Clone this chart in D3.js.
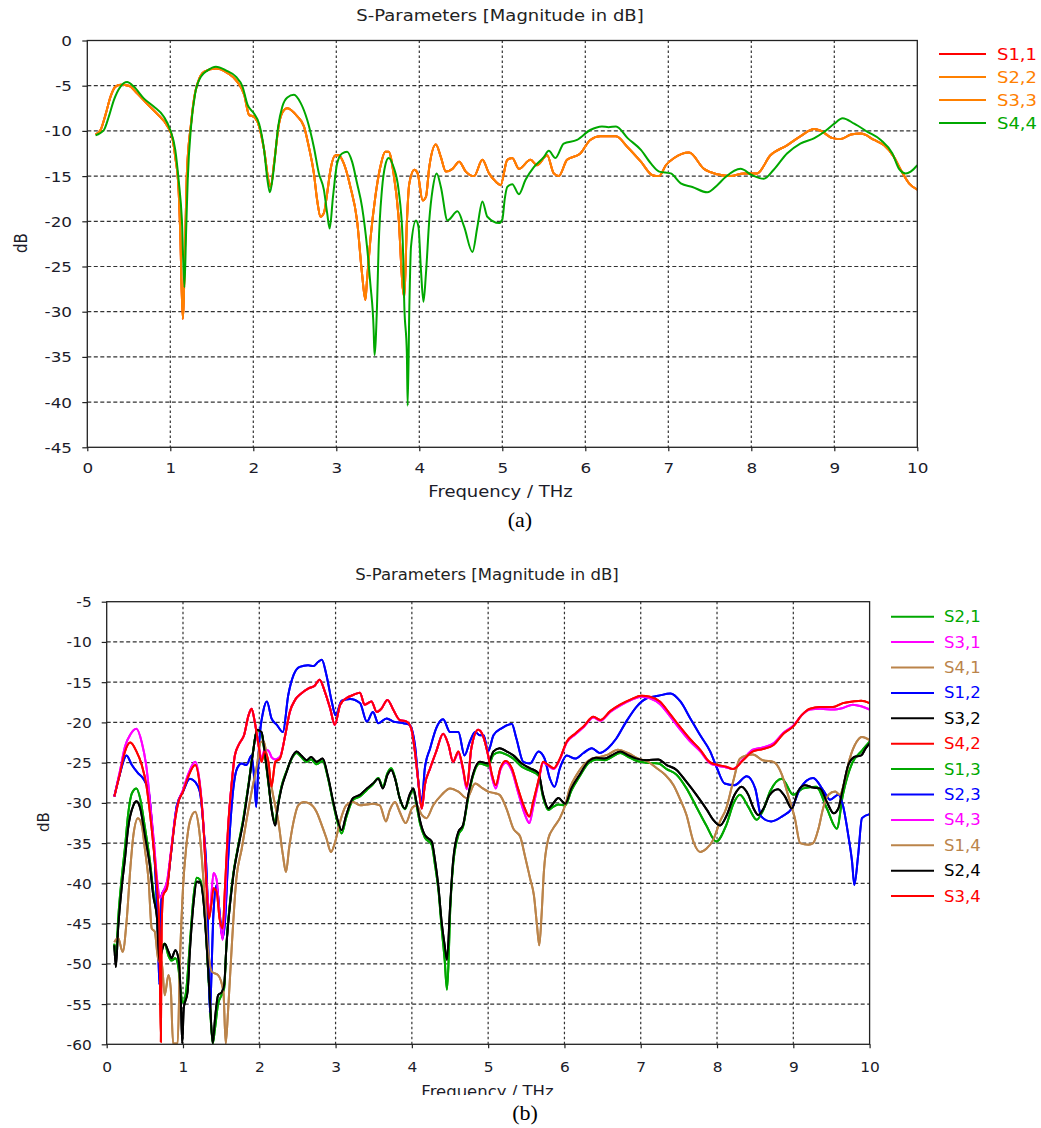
<!DOCTYPE html>
<html>
<head>
<meta charset="utf-8">
<script src="https://cdn.jsdelivr.net/npm/d3@7"></script>
<style>
  body { margin: 0; background: #fff; }
  svg { display: block; }
  text { font-family: "DejaVu Sans", Verdana, sans-serif; }
</style>
</head>
<body>
<div id="chart"></div>
<script>
// ---- panel (a): reflection, [THz, dB]
const freqTicks = d3.range(0, 11);
const ticksA = d3.range(-45, 1, 5);
const ticksB = d3.range(-60, -4, 5);

const reflOrange = [[0.1,-10.4],[0.16,-9.9],[0.22,-8.2],[0.28,-6.2],[0.34,-5.1],[0.4,-4.9],[0.5,-5.0],[0.6,-5.85],[0.72,-7.0],[0.84,-8.1],[0.96,-9.4],[1.02,-10.6],[1.06,-12.9],[1.1,-16.5],[1.12,-21.3],[1.15,-30.8],[1.18,-22],[1.2,-14.7],[1.25,-9.2],[1.29,-6.2],[1.33,-4.7],[1.41,-3.45],[1.55,-3.1],[1.69,-3.6],[1.81,-4.6],[1.89,-6.0],[1.95,-8.25],[2.0,-8.4],[2.07,-9.5],[2.13,-12.1],[2.19,-15.8],[2.21,-16.2],[2.25,-13.6],[2.31,-9.2],[2.37,-7.7],[2.41,-7.5],[2.53,-8.4],[2.61,-9.5],[2.67,-11.8],[2.73,-14.7],[2.77,-17.7],[2.81,-19.5],[2.85,-19.1],[2.89,-16.9],[2.93,-14.3],[2.99,-12.7],[3.03,-12.7],[3.09,-13.6],[3.17,-16.2],[3.25,-19.9],[3.31,-25.8],[3.35,-28.7],[3.37,-26.5],[3.41,-22.1],[3.47,-17.3],[3.53,-14.0],[3.59,-12.3],[3.63,-12.3],[3.69,-14.7],[3.75,-19.5],[3.8,-27.3],[3.82,-28.4],[3.85,-20.2],[3.88,-15.8],[3.94,-14.3],[3.98,-14.7],[4.04,-17.7],[4.08,-17.3],[4.12,-14.0],[4.2,-11.5],[4.26,-12.9],[4.32,-14.5],[4.4,-14.2],[4.48,-13.4],[4.56,-14.5],[4.66,-15.0],[4.76,-13.2],[4.84,-14.7],[4.92,-15.6],[4.98,-16.0],[5.06,-13.2],[5.12,-13.0],[5.2,-14.2],[5.34,-13.2],[5.42,-13.8],[5.54,-12.7],[5.62,-14.7],[5.68,-15.0],[5.78,-13.2],[5.94,-12.5],[6.06,-11.0],[6.18,-10.6],[6.37,-10.6],[6.51,-11.8],[6.67,-13.4],[6.81,-14.9],[6.89,-15.0],[6.97,-13.8],[7.07,-13.0],[7.25,-12.4],[7.43,-14.2],[7.59,-14.8],[7.75,-15.0],[7.91,-14.7],[8.07,-14.7],[8.23,-12.7],[8.43,-11.6],[8.59,-10.6],[8.76,-9.8],[8.84,-10.0],[8.98,-10.8],[9.08,-10.9],[9.2,-10.4],[9.32,-10.3],[9.48,-11.0],[9.6,-11.6],[9.72,-12.9],[9.8,-14.3],[9.9,-15.8],[10,-16.5]];

const reflGreen = [[0.1,-10.5],[0.2,-9.9],[0.26,-8.4],[0.32,-6.6],[0.4,-5.1],[0.48,-4.6],[0.56,-5.1],[0.68,-6.4],[0.8,-7.3],[0.92,-8.4],[1.0,-9.9],[1.06,-12.1],[1.1,-15.4],[1.14,-19.9],[1.17,-27.3],[1.19,-21.3],[1.21,-15.4],[1.25,-9.5],[1.3,-5.85],[1.37,-4.0],[1.45,-3.3],[1.55,-2.9],[1.67,-3.3],[1.79,-4.0],[1.87,-5.1],[1.93,-7.1],[2.01,-8.1],[2.07,-9.2],[2.13,-12.1],[2.17,-15.4],[2.2,-16.8],[2.24,-14.7],[2.3,-9.5],[2.35,-7.3],[2.41,-6.3],[2.49,-6.0],[2.57,-6.9],[2.65,-8.8],[2.73,-11.8],[2.79,-14.7],[2.85,-16.5],[2.89,-19.1],[2.92,-20.8],[2.96,-17.3],[3.01,-13.6],[3.07,-12.5],[3.13,-12.3],[3.19,-13.4],[3.25,-15.8],[3.31,-18.4],[3.37,-22.8],[3.41,-26.9],[3.45,-32.0],[3.46,-34.8],[3.49,-29.5],[3.51,-22.8],[3.55,-16.5],[3.59,-13.8],[3.63,-13.0],[3.69,-14.0],[3.75,-16.5],[3.8,-22.1],[3.82,-29.5],[3.85,-34.6],[3.86,-40.4],[3.88,-29.5],[3.9,-22.8],[3.96,-19.9],[3.99,-20.6],[4.02,-25.4],[4.05,-28.9],[4.08,-25.8],[4.12,-19.9],[4.16,-16.5],[4.21,-14.7],[4.26,-16.2],[4.34,-19.9],[4.46,-18.9],[4.54,-20.6],[4.64,-23.4],[4.7,-20.6],[4.76,-17.8],[4.82,-19.5],[4.96,-20.2],[5.0,-19.8],[5.03,-17.5],[5.06,-16.2],[5.12,-15.9],[5.2,-17.0],[5.28,-15.4],[5.38,-14.0],[5.5,-12.9],[5.56,-12.2],[5.64,-13.0],[5.74,-11.4],[5.9,-11.0],[6.06,-9.9],[6.2,-9.5],[6.28,-9.6],[6.37,-9.5],[6.51,-10.8],[6.67,-12.1],[6.79,-13.6],[6.89,-14.5],[7.03,-14.7],[7.15,-15.8],[7.29,-16.2],[7.47,-16.8],[7.59,-16.0],[7.69,-15.1],[7.87,-14.2],[8.01,-14.9],[8.15,-15.3],[8.27,-14.3],[8.43,-12.5],[8.59,-11.4],[8.76,-10.8],[8.88,-10.1],[9.0,-9.2],[9.1,-8.6],[9.24,-9.2],[9.4,-10.1],[9.56,-11.0],[9.7,-12.5],[9.78,-14.2],[9.86,-14.7],[9.92,-14.5],[10,-13.8]];

// ---- panel (b): transmission, [THz, dB]
const transBlue = [[0.1,-29.2],[0.17,-26.5],[0.26,-24.1],[0.33,-25.3],[0.41,-26.3],[0.48,-27.0],[0.55,-28.6],[0.59,-32.3],[0.63,-37.3],[0.67,-45.6],[0.69,-52.6],[0.72,-41.5],[0.79,-40.2],[0.85,-35.7],[0.92,-30.3],[1.0,-28.6],[1.09,-27.0],[1.16,-27.4],[1.22,-28.6],[1.27,-33.2],[1.32,-41.5],[1.35,-56.0],[1.4,-43.6],[1.44,-40.2],[1.48,-43.6],[1.52,-46.8],[1.55,-44.8],[1.59,-37.3],[1.66,-28.2],[1.71,-25.7],[1.77,-25.1],[1.83,-25.3],[1.9,-24.1],[1.94,-27.8],[1.96,-30.5],[2.0,-22.4],[2.05,-18.7],[2.1,-17.4],[2.16,-19.5],[2.23,-20.3],[2.31,-21.2],[2.38,-16.6],[2.45,-14.1],[2.53,-13.1],[2.64,-12.9],[2.71,-13.0],[2.77,-12.5],[2.82,-12.2],[2.88,-14.1],[2.95,-17.4],[3.0,-19.1],[3.08,-17.3],[3.19,-17.1],[3.32,-17.6],[3.41,-19.9],[3.49,-18.7],[3.56,-20.1],[3.67,-19.5],[3.76,-19.9],[3.89,-20.1],[3.97,-20.3],[4.04,-22.8],[4.1,-28.6],[4.13,-29.9],[4.17,-25.7],[4.24,-23.2],[4.32,-20.7],[4.41,-19.6],[4.5,-21.2],[4.61,-21.2],[4.69,-24.1],[4.76,-22.4],[4.83,-21.2],[4.89,-21.6],[4.94,-21.6],[5.0,-23.6],[5.07,-21.6],[5.18,-20.7],[5.31,-20.2],[5.37,-22.0],[5.46,-24.9],[5.55,-25.1],[5.66,-23.6],[5.74,-24.5],[5.81,-27.0],[5.87,-28.0],[5.94,-25.7],[6.03,-24.1],[6.14,-24.5],[6.25,-23.8],[6.36,-23.2],[6.46,-23.8],[6.57,-23.2],[6.68,-22.0],[6.81,-19.9],[6.95,-18.0],[7.08,-17.0],[7.23,-16.7],[7.39,-16.4],[7.52,-17.4],[7.65,-19.5],[7.78,-21.6],[7.91,-23.6],[8.0,-25.7],[8.1,-27.6],[8.23,-27.8],[8.39,-26.7],[8.5,-28.2],[8.58,-31.7],[8.71,-32.3],[8.85,-31.7],[8.98,-30.7],[9.09,-28.2],[9.26,-26.9],[9.39,-28.4],[9.48,-29.6],[9.59,-29.0],[9.65,-30.3],[9.72,-34.0],[9.77,-37.3],[9.8,-40.2],[9.85,-36.5],[9.9,-31.9],[10,-31.4]];

const transRed = [[0.1,-29.2],[0.17,-26.5],[0.24,-23.6],[0.31,-22.5],[0.39,-23.6],[0.46,-25.3],[0.52,-27.8],[0.57,-31.5],[0.62,-36.1],[0.66,-40.6],[0.69,-45.6],[0.71,-59.7],[0.72,-45.6],[0.74,-41.5],[0.79,-40.6],[0.84,-36.5],[0.9,-31.9],[0.94,-29.9],[1.0,-28.6],[1.07,-26.7],[1.16,-25.3],[1.22,-27.8],[1.27,-33.2],[1.31,-40.6],[1.34,-44.4],[1.37,-42.7],[1.4,-40.6],[1.44,-41.0],[1.48,-44.4],[1.52,-45.6],[1.55,-40.6],[1.59,-33.2],[1.64,-27.4],[1.68,-24.1],[1.74,-22.6],[1.8,-21.6],[1.86,-19.1],[1.9,-18.3],[1.94,-19.9],[1.99,-22.8],[2.03,-24.9],[2.07,-23.6],[2.12,-24.9],[2.16,-28.0],[2.21,-24.9],[2.27,-24.5],[2.34,-21.6],[2.4,-18.7],[2.47,-17.2],[2.55,-16.4],[2.64,-15.8],[2.73,-15.4],[2.79,-14.7],[2.86,-16.2],[2.93,-18.3],[2.99,-20.3],[3.06,-17.8],[3.14,-17.0],[3.23,-16.6],[3.32,-16.3],[3.38,-17.8],[3.47,-17.4],[3.54,-18.7],[3.6,-18.3],[3.68,-17.2],[3.76,-18.5],[3.84,-19.7],[3.93,-19.9],[3.99,-20.7],[4.04,-23.6],[4.08,-27.0],[4.13,-30.7],[4.17,-27.8],[4.24,-25.7],[4.32,-23.6],[4.41,-21.4],[4.48,-22.8],[4.54,-24.9],[4.61,-23.6],[4.67,-25.7],[4.72,-28.0],[4.78,-23.2],[4.87,-20.9],[4.93,-21.6],[5.0,-24.1],[5.05,-26.5],[5.1,-27.8],[5.16,-25.7],[5.23,-24.8],[5.31,-25.7],[5.39,-28.2],[5.48,-30.7],[5.54,-31.7],[5.59,-29.9],[5.66,-27.2],[5.72,-24.9],[5.79,-25.3],[5.86,-25.7],[5.94,-24.5],[6.03,-22.4],[6.14,-21.4],[6.25,-20.5],[6.38,-19.3],[6.47,-19.7],[6.6,-18.6],[6.73,-17.8],[6.88,-17.1],[7.01,-16.7],[7.12,-16.8],[7.25,-17.4],[7.38,-18.9],[7.51,-20.5],[7.64,-22.0],[7.78,-23.4],[7.9,-24.9],[8.01,-25.3],[8.12,-25.5],[8.21,-25.8],[8.34,-24.7],[8.47,-23.6],[8.6,-23.3],[8.74,-22.8],[8.87,-21.4],[9.0,-20.5],[9.11,-19.1],[9.22,-18.3],[9.35,-18.1],[9.52,-18.1],[9.65,-17.6],[9.78,-17.4],[9.89,-17.3],[10,-17.6]];

const transMagenta = [[0.1,-29.2],[0.17,-26.2],[0.24,-23.0],[0.31,-21.5],[0.39,-20.8],[0.46,-22.5],[0.52,-25.5],[0.57,-30.0],[0.62,-35.0],[0.66,-39.5],[0.7,-41.8],[0.74,-41.0],[0.79,-39.8],[0.84,-36.2],[0.9,-31.6],[0.94,-29.8],[1.0,-28.4],[1.07,-26.4],[1.16,-24.9],[1.22,-27.5],[1.27,-33.0],[1.31,-40.0],[1.35,-43.8],[1.4,-38.7],[1.44,-39.5],[1.48,-44.0],[1.52,-47.0],[1.55,-43.0],[1.59,-33.5],[1.64,-27.4],[1.68,-24.1],[1.74,-22.6],[1.8,-21.6],[1.86,-19.1],[1.9,-18.3],[1.94,-19.9],[1.99,-22.8],[2.03,-24.5],[2.07,-23.4],[2.12,-23.5],[2.16,-24.3],[2.21,-24.6],[2.27,-24.3],[2.34,-21.6],[2.4,-18.7],[2.47,-17.2],[2.55,-16.4],[2.64,-15.8],[2.73,-15.4],[2.79,-14.7],[2.86,-16.2],[2.93,-18.3],[2.99,-20.3],[3.06,-17.8],[3.14,-17.0],[3.23,-16.6],[3.32,-16.3],[3.38,-17.8],[3.47,-17.4],[3.54,-18.7],[3.6,-18.3],[3.68,-17.2],[3.76,-18.5],[3.84,-19.7],[3.93,-19.9],[3.99,-20.7],[4.04,-23.6],[4.08,-27.0],[4.13,-30.7],[4.17,-27.8],[4.24,-25.7],[4.32,-23.6],[4.41,-21.4],[4.48,-22.8],[4.54,-24.9],[4.61,-23.8],[4.67,-25.9],[4.72,-28.3],[4.78,-23.2],[4.87,-20.9],[4.93,-21.6],[5.0,-24.1],[5.05,-26.8],[5.1,-28.2],[5.16,-25.9],[5.23,-25.0],[5.31,-26.0],[5.39,-28.6],[5.48,-31.4],[5.54,-32.5],[5.59,-30.5],[5.66,-27.4],[5.72,-25.0],[5.79,-25.4],[5.86,-25.8],[5.94,-24.6],[6.03,-22.5],[6.14,-21.5],[6.25,-20.6],[6.38,-19.4],[6.47,-19.8],[6.6,-18.7],[6.73,-17.9],[6.88,-17.2],[7.01,-16.8],[7.12,-17.0],[7.25,-17.7],[7.38,-19.2],[7.51,-20.8],[7.64,-22.3],[7.78,-23.6],[7.9,-25.0],[8.01,-25.4],[8.12,-25.6],[8.21,-25.8],[8.34,-24.6],[8.47,-23.4],[8.6,-23.1],[8.74,-22.6],[8.87,-21.3],[9.0,-20.4],[9.11,-19.1],[9.22,-18.4],[9.35,-18.3],[9.52,-18.4],[9.65,-18.2],[9.78,-17.8],[9.89,-18.0],[10,-18.4]];

const transBlack = [[0.1,-47.7],[0.12,-50.4],[0.15,-45.6],[0.2,-40.2],[0.24,-36.9],[0.28,-33.2],[0.35,-30.3],[0.39,-29.8],[0.44,-30.7],[0.5,-34.0],[0.57,-38.1],[0.61,-41.5],[0.66,-44.4],[0.69,-49.7],[0.72,-48.5],[0.76,-47.5],[0.81,-48.5],[0.85,-49.3],[0.9,-48.3],[0.94,-49.3],[0.97,-53.9],[0.99,-59.9],[1.01,-55.5],[1.06,-53.5],[1.09,-48.5],[1.14,-42.3],[1.18,-39.8],[1.22,-39.8],[1.27,-42.3],[1.31,-47.7],[1.35,-53.9],[1.39,-59.9],[1.42,-56.8],[1.46,-53.9],[1.51,-53.5],[1.54,-52.6],[1.57,-47.7],[1.62,-42.3],[1.66,-39.0],[1.72,-35.7],[1.79,-32.3],[1.86,-27.8],[1.92,-23.6],[1.97,-20.9],[2.03,-21.2],[2.07,-23.6],[2.12,-27.4],[2.16,-30.7],[2.21,-32.8],[2.24,-30.7],[2.29,-28.2],[2.36,-26.1],[2.42,-24.5],[2.49,-23.6],[2.55,-24.1],[2.62,-24.7],[2.68,-24.3],[2.75,-24.9],[2.83,-24.5],[2.9,-26.7],[2.97,-29.9],[3.02,-31.9],[3.08,-33.4],[3.14,-31.5],[3.23,-29.4],[3.32,-29.0],[3.41,-28.2],[3.49,-27.6],[3.56,-27.0],[3.62,-28.2],[3.68,-26.5],[3.73,-25.9],[3.78,-27.0],[3.84,-29.4],[3.91,-30.7],[3.97,-29.0],[4.02,-28.2],[4.06,-29.9],[4.11,-32.3],[4.17,-34.0],[4.26,-34.8],[4.3,-36.9],[4.35,-40.6],[4.39,-44.8],[4.43,-47.7],[4.46,-49.5],[4.5,-43.1],[4.54,-37.3],[4.61,-33.6],[4.67,-32.8],[4.74,-29.0],[4.8,-26.5],[4.89,-24.9],[5.0,-25.1],[5.07,-23.6],[5.15,-23.2],[5.24,-23.6],[5.33,-24.1],[5.44,-25.1],[5.55,-25.7],[5.66,-26.3],[5.72,-29.0],[5.79,-30.7],[5.85,-30.1],[5.92,-29.4],[6.01,-30.1],[6.09,-28.2],[6.2,-26.5],[6.31,-24.9],[6.42,-24.4],[6.53,-24.5],[6.62,-24.1],[6.73,-23.6],[6.84,-24.1],[6.95,-24.5],[7.08,-24.7],[7.23,-24.6],[7.34,-25.3],[7.47,-25.9],[7.6,-27.4],[7.73,-29.0],[7.87,-30.9],[7.95,-32.1],[8.04,-32.8],[8.12,-31.7],[8.23,-29.0],[8.32,-28.0],[8.41,-29.0],[8.48,-30.7],[8.54,-31.5],[8.61,-30.7],[8.69,-29.0],[8.8,-28.3],[8.89,-29.2],[8.98,-30.7],[9.06,-28.6],[9.15,-27.8],[9.26,-28.1],[9.35,-28.2],[9.44,-29.9],[9.53,-31.3],[9.59,-30.7],[9.65,-28.2],[9.72,-25.3],[9.8,-24.3],[9.89,-24.1],[9.95,-23.2],[10,-22.6]];

const transGreen = [[0.1,-47.5],[0.12,-49.5],[0.15,-44.5],[0.2,-39.0],[0.24,-35.5],[0.28,-31.5],[0.33,-28.8],[0.39,-28.2],[0.44,-29.5],[0.5,-33.0],[0.57,-37.5],[0.61,-41.0],[0.66,-44.0],[0.69,-49.0],[0.72,-48.0],[0.76,-47.5],[0.81,-49.0],[0.85,-49.6],[0.9,-49.3],[0.94,-50.5],[0.97,-53.5],[1.0,-54.8],[1.04,-53.5],[1.09,-47.5],[1.14,-41.5],[1.18,-39.3],[1.22,-39.5],[1.27,-42.0],[1.31,-47.5],[1.35,-54.5],[1.39,-59.9],[1.42,-58.0],[1.46,-55.0],[1.51,-53.8],[1.54,-53.0],[1.57,-47.5],[1.62,-42.0],[1.66,-38.8],[1.72,-35.5],[1.79,-32.0],[1.86,-27.6],[1.92,-23.5],[1.97,-21.0],[2.03,-21.4],[2.07,-23.8],[2.12,-27.6],[2.16,-30.6],[2.21,-32.5],[2.24,-30.5],[2.29,-28.0],[2.36,-26.0],[2.42,-24.6],[2.49,-23.8],[2.55,-24.3],[2.62,-24.9],[2.68,-24.6],[2.75,-25.2],[2.83,-24.8],[2.9,-26.9],[2.97,-30.1],[3.02,-32.2],[3.08,-33.8],[3.14,-31.8],[3.23,-29.6],[3.32,-29.2],[3.41,-28.4],[3.49,-27.7],[3.56,-26.9],[3.62,-28.0],[3.68,-26.3],[3.73,-25.7],[3.78,-26.9],[3.84,-29.4],[3.91,-30.8],[3.97,-29.2],[4.02,-28.4],[4.06,-30.2],[4.11,-32.7],[4.17,-34.3],[4.26,-35.2],[4.3,-37.5],[4.35,-41.0],[4.39,-45.5],[4.43,-49.5],[4.46,-53.2],[4.48,-50.0],[4.5,-44.0],[4.54,-37.8],[4.61,-34.0],[4.67,-33.0],[4.74,-29.3],[4.8,-26.7],[4.89,-25.1],[5.0,-25.4],[5.07,-24.0],[5.15,-23.7],[5.24,-24.0],[5.33,-24.5],[5.44,-25.5],[5.55,-26.0],[5.66,-26.6],[5.72,-29.3],[5.79,-30.9],[5.85,-30.5],[5.92,-30.2],[6.01,-30.3],[6.09,-28.5],[6.2,-26.7],[6.31,-25.1],[6.42,-24.6],[6.53,-24.7],[6.62,-24.3],[6.73,-23.8],[6.84,-24.3],[6.95,-24.8],[7.08,-25.0],[7.23,-25.1],[7.34,-25.8],[7.47,-26.5],[7.6,-28.2],[7.73,-30.5],[7.86,-32.8],[7.99,-34.8],[8.12,-32.8],[8.22,-30.0],[8.3,-29.0],[8.41,-30.5],[8.52,-32.1],[8.6,-31.0],[8.7,-28.5],[8.85,-27.0],[9.0,-29.0],[9.13,-28.2],[9.3,-28.0],[9.44,-30.7],[9.57,-33.2],[9.65,-29.0],[9.77,-25.1],[9.9,-23.5],[10,-22.4]];

const transTan = [[0.1,-47.3],[0.15,-46.8],[0.21,-48.5],[0.26,-44.8],[0.31,-38.1],[0.35,-34.0],[0.41,-31.9],[0.46,-32.8],[0.5,-35.7],[0.55,-39.8],[0.59,-45.6],[0.63,-46.0],[0.68,-49.7],[0.72,-49.7],[0.76,-53.9],[0.81,-51.4],[0.84,-53.1],[0.87,-59.9],[0.93,-59.9],[0.96,-49.7],[1.0,-40.6],[1.04,-35.7],[1.09,-32.3],[1.16,-31.1],[1.21,-33.2],[1.27,-39.8],[1.32,-47.3],[1.38,-51.0],[1.46,-51.4],[1.53,-53.5],[1.56,-59.9],[1.59,-56.0],[1.64,-47.7],[1.7,-39.4],[1.77,-35.7],[1.83,-32.3],[1.9,-28.6],[1.97,-25.3],[2.02,-22.4],[2.06,-22.4],[2.12,-25.7],[2.18,-29.0],[2.25,-32.3],[2.31,-36.5],[2.35,-38.6],[2.39,-35.7],[2.45,-32.3],[2.51,-30.3],[2.58,-29.9],[2.66,-30.1],[2.75,-31.1],[2.82,-32.8],[2.88,-34.4],[2.94,-36.1],[2.99,-35.0],[3.06,-32.3],[3.14,-30.3],[3.23,-29.9],[3.32,-30.3],[3.41,-30.2],[3.49,-30.1],[3.58,-30.3],[3.66,-32.3],[3.71,-30.9],[3.78,-29.9],[3.84,-31.1],[3.92,-32.5],[4.0,-30.7],[4.06,-30.3],[4.13,-31.5],[4.19,-31.9],[4.28,-30.3],[4.39,-29.0],[4.5,-28.2],[4.61,-28.6],[4.72,-29.4],[4.83,-27.6],[4.93,-28.2],[5.0,-28.6],[5.09,-28.8],[5.15,-29.0],[5.24,-30.7],[5.33,-33.2],[5.42,-34.2],[5.48,-36.5],[5.55,-39.4],[5.6,-41.5],[5.64,-45.2],[5.67,-47.7],[5.7,-44.0],[5.73,-38.6],[5.79,-34.4],[5.85,-33.2],[5.94,-31.9],[6.01,-30.3],[6.07,-28.2],[6.16,-26.5],[6.25,-25.3],[6.36,-24.5],[6.46,-24.3],[6.57,-24.0],[6.7,-23.4],[6.83,-23.8],[6.97,-24.5],[7.1,-24.9],[7.21,-25.7],[7.32,-26.5],[7.43,-27.8],[7.51,-29.4],[7.6,-31.5],[7.69,-34.8],[7.78,-36.1],[7.86,-35.7],[7.95,-34.6],[8.04,-32.3],[8.12,-30.7],[8.21,-27.4],[8.3,-24.5],[8.39,-24.1],[8.47,-24.0],[8.6,-24.7],[8.74,-24.9],[8.85,-26.5],[8.93,-29.0],[9.02,-31.9],[9.09,-35.0],[9.2,-35.2],[9.26,-35.0],[9.33,-33.2],[9.39,-30.7],[9.46,-29.0],[9.55,-28.6],[9.61,-29.0],[9.67,-27.4],[9.74,-24.5],[9.83,-22.4],[9.9,-21.8],[10,-22.2]];

// legend entries in drawing order
const namesA = ["S1,1", "S2,2", "S3,3", "S4,4"];
const colorsA = ["#ff0000", "#ff8000", "#ff8000", "#00a800"];
const valuesA = [reflOrange, reflOrange, reflOrange, reflGreen];

const namesB = ["S2,1", "S3,1", "S4,1", "S1,2", "S3,2", "S4,2", "S1,3", "S2,3", "S4,3", "S1,4", "S2,4", "S3,4"];
const colorsB = ["#00a800", "#ff00ff", "#bb844a", "#0000ff", "#000000", "#ff0000", "#00a800", "#0000ff", "#ff00ff", "#bb844a", "#000000", "#ff0000"];
const valuesB = [transGreen, transMagenta, transTan, transBlue, transBlack, transRed, transGreen, transBlue, transMagenta, transTan, transBlack, transRed];

const svg = d3.select("#chart").append("svg").attr("width", 1041).attr("height", 1128);
svg.append("rect").attr("width", 1041).attr("height", 1128).attr("fill", "#fff");

// text helper: the original screenshot is stretched horizontally
const label = (g, txt, x, y, kx, size, anchor, fill, rotate) =>
  g.append("text")
    .attr("transform", `translate(${x},${y}) scale(${kx},1)` + (rotate ? " rotate(-90)" : ""))
    .attr("text-anchor", anchor)
    .attr("font-size", size)
    .attr("fill", fill)
    .text(txt);

const plain = (d) => String(d); // keep ascii hyphen like the original

const drawPanel = (p) => {
  const xScale = d3.scaleLinear().domain([0, 10]).range([p.left, p.right]);
  const yScale = d3.scaleLinear().domain(p.yDomain).range([p.bottom, p.top]);
  const g = svg.append("g");

  g.append("clipPath").attr("id", "clip-" + p.id)
    .append("rect")
    .attr("x", p.left).attr("y", p.top)
    .attr("width", p.right - p.left).attr("height", p.bottom - p.top);

  // grid
  g.append("g").selectAll("line").data(freqTicks.slice(1, -1)).join("line")
    .attr("x1", (d) => xScale(d)).attr("x2", (d) => xScale(d))
    .attr("y1", p.top).attr("y2", p.bottom)
    .attr("stroke", "#333").attr("stroke-width", 1.2).attr("stroke-dasharray", "2.5,2.5");
  g.append("g").selectAll("line").data(p.yTicks.slice(1, -1)).join("line")
    .attr("x1", p.left).attr("x2", p.right)
    .attr("y1", (d) => yScale(d)).attr("y2", (d) => yScale(d))
    .attr("stroke", "#333").attr("stroke-width", 1.2).attr("stroke-dasharray", "4,2.5");

  // curves
  const line = d3.line()
    .x((d) => xScale(d[0]))
    .y((d) => yScale(d[1]))
    .curve(d3.curveMonotoneX);
  g.append("g").attr("clip-path", `url(#clip-${p.id})`)
    .selectAll("path").data(p.values).join("path")
    .attr("d", (d) => line(d))
    .attr("fill", "none")
    .attr("stroke", (d, i) => p.colors[i])
    .attr("stroke-width", 2)
    .attr("stroke-linejoin", "round");

  // frame
  g.append("rect")
    .attr("x", p.left).attr("y", p.top)
    .attr("width", p.right - p.left).attr("height", p.bottom - p.top)
    .attr("fill", "none").attr("stroke", "#222").attr("stroke-width", 1.3);

  // axes
  const gx = g.append("g").attr("transform", `translate(0,${p.bottom})`)
    .call(d3.axisBottom(xScale).tickValues(freqTicks).tickSize(4).tickFormat(plain));
  gx.select(".domain").remove();
  gx.selectAll("line").attr("stroke", "#222").attr("stroke-width", 1.2);
  gx.selectAll("text")
    .attr("y", p.xTickY).attr("dy", 0)
    .attr("transform", `scale(${p.kx},1)`)
    .attr("font-size", 14).attr("fill", "#1c1c2a");

  const gy = g.append("g").attr("transform", `translate(${p.left},0)`)
    .call(d3.axisLeft(yScale).tickValues(p.yTicks).tickSize(5).tickFormat(plain));
  gy.select(".domain").remove();
  gy.selectAll("line").attr("stroke", "#222").attr("stroke-width", 1.2);
  gy.selectAll("text")
    .attr("x", (p.yLabelRight - p.left) / p.kx).attr("dy", "0.36em")
    .attr("transform", `scale(${p.kx},1)`)
    .attr("font-size", 14).attr("fill", "#1c1c2a");

  // titles
  label(g, "S-Parameters [Magnitude in dB]", p.titleX, p.titleY, p.kx, 15, "middle", "#222");
  let xtHolder = g;
  if (p.xTitleClip) {
    // the original picture is cropped through the axis title
    g.append("clipPath").attr("id", "xt-" + p.id)
      .append("rect").attr("x", 0).attr("y", 0).attr("width", 1041).attr("height", p.xTitleClip);
    xtHolder = g.append("g").attr("clip-path", `url(#xt-${p.id})`);
  }
  label(xtHolder, "Frequency / THz", p.xTitleX, p.xTitleY, p.kx, 15, "middle", "#1c1c2a");
  label(g, "dB", p.yTitleX, p.yTitleY, p.kx, 15, "middle", "#1c1c2a", true);

  // legend
  const lg = g.append("g").selectAll("g").data(p.names).join("g")
    .attr("transform", (d, i) => `translate(0,${p.legendY + i * p.legendStep})`);
  lg.append("line")
    .attr("x1", p.legendX0).attr("x2", p.legendX1)
    .attr("stroke", (d, i) => p.colors[i]).attr("stroke-width", 2);
  lg.append("text")
    .attr("transform", `translate(${p.legendTextX},5.5) scale(${p.kx},1)`)
    .attr("font-size", 15)
    .attr("fill", (d, i) => p.colors[i])
    .text((d) => d);

  // caption, serif like the paper's figure labels
  svg.append("text")
    .attr("x", p.capX).attr("y", p.capY)
    .attr("text-anchor", "middle")
    .style("font-family", "'Liberation Serif', 'Times New Roman', serif")
    .attr("font-size", 22).attr("fill", "#000")
    .text(p.caption);
};

drawPanel({
  id: "a", left: 87.3, right: 917.3, top: 40.5, bottom: 447.3,
  yDomain: [-45, 0], yTicks: ticksA, kx: 1.2,
  xTickY: 25.7, yLabelRight: 72,
  titleX: 500, titleY: 21,
  xTitleX: 500.5, xTitleY: 497,
  yTitleX: 26.5, yTitleY: 243,
  names: namesA, colors: colorsA, values: valuesA,
  legendX0: 939, legendX1: 986, legendTextX: 997, legendY: 54, legendStep: 23,
  caption: "(a)", capX: 520, capY: 527
});

drawPanel({
  id: "b", left: 106.7, right: 869.6, top: 601.7, bottom: 1044.3,
  yDomain: [-60, -5], yTicks: ticksB, kx: 1.1,
  xTickY: 27.7, yLabelRight: 91.7,
  titleX: 487, titleY: 579.5,
  xTitleX: 487.5, xTitleY: 1097, xTitleClip: 1095,
  yTitleX: 49, yTitleY: 822,
  names: namesB, colors: colorsB, values: valuesB,
  legendX0: 891, legendX1: 934, legendTextX: 944, legendY: 616.7, legendStep: 25.4,
  caption: "(b)", capX: 525, capY: 1120
});
</script>
</body>
</html>
